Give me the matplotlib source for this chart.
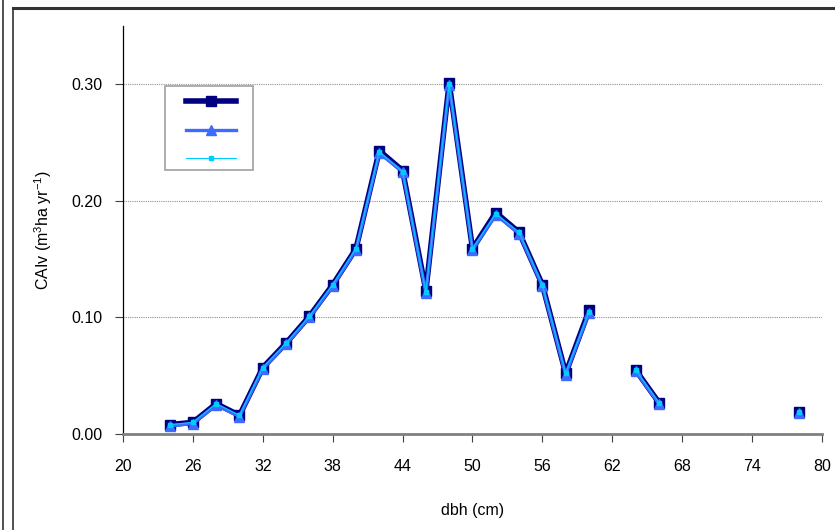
import numpy as np
import matplotlib
matplotlib.use('Agg')
import matplotlib.pyplot as plt
from matplotlib.lines import Line2D
from matplotlib.patches import Rectangle

plt.rcParams['font.family'] = ['Liberation Sans', 'DejaVu Sans']
plt.rcParams['mathtext.default'] = 'regular'

# diameter classes (cm) and current annual increment in volume
dbh = [24, 26, 28, 30, 32, 34, 36, 38, 40, 42, 44, 46, 48, 50, 52, 54, 56, 58, 60,
       62, 64, 66, 68, 70, 72, 74, 76, 78]
caiv_a = [0.008, 0.010, 0.026, 0.016, 0.057, 0.078, 0.101, 0.128, 0.159, 0.243,
          0.226, 0.123, 0.301, 0.159, 0.190, 0.173, 0.128, 0.052, 0.106,
          np.nan, 0.055, 0.027, np.nan, np.nan, np.nan, np.nan, np.nan, 0.019]
caiv_b = [0.007, 0.009, 0.025, 0.015, 0.056, 0.077, 0.100, 0.127, 0.158, 0.241,
          0.225, 0.121, 0.299, 0.158, 0.188, 0.172, 0.127, 0.051, 0.104,
          np.nan, 0.054, 0.026, np.nan, np.nan, np.nan, np.nan, np.nan, 0.018]
caiv_c = [0.008, 0.010, 0.026, 0.016, 0.057, 0.078, 0.101, 0.128, 0.159, 0.242,
          0.225, 0.122, 0.300, 0.159, 0.189, 0.173, 0.128, 0.052, 0.105,
          np.nan, 0.055, 0.027, np.nan, np.nan, np.nan, np.nan, np.nan, 0.019]

x_ticks = [20, 26, 32, 38, 44, 50, 56, 62, 68, 74, 80]
y_ticks = [0.0, 0.1, 0.2, 0.3]

fig = plt.figure(figsize=(8.35, 5.3), dpi=100)
ax = fig.add_axes([0.1473, 0.1811, 0.8371, 0.7698])

p1, = ax.plot(dbh, caiv_a, color='#000080', lw=4.0, marker='s', ms=7.5,
              mfc='#000080', mec='#000080', zorder=3)
p2, = ax.plot(dbh, caiv_b, color='#3d6bff', lw=2.4, marker='^', ms=7.5,
              mfc='#3d6bff', mec='#3d6bff', zorder=4)
p3, = ax.plot(dbh, caiv_c, color='#00ccff', lw=0.8, marker='s', ms=2.2,
              mfc='#00ccff', mec='#00ccff', zorder=5)

ax.set_xlim(20, 80)
ax.set_ylim(0, 0.35)
ax.set_xticks(x_ticks)
ax.set_yticks(y_ticks)
ax.set_yticklabels(['%.2f' % v for v in y_ticks])
ax.tick_params(axis='both', direction='out', length=6, labelsize=11.5, color='#404040')
ax.tick_params(axis='x', pad=12)
ax.tick_params(axis='y', pad=9)
ax.grid(axis='y', color='#909090', ls=(0, (1, 1)), lw=0.8)
ax.set_axisbelow(True)

for s in ['top', 'right']:
    ax.spines[s].set_visible(False)
ax.spines['left'].set_color('black')
ax.spines['left'].set_linewidth(0.9)
ax.spines['bottom'].set_color('#808080')
ax.spines['bottom'].set_linewidth(2)

ax.set_xlabel('dbh (cm)', fontsize=11.5, labelpad=21)
ax.set_ylabel('CAIv (m$^{3}$ha yr$^{-1}$)', fontsize=11.5, labelpad=12)

# legend without labels, boxed separately
ax.legend([p1, p2, p3], ['', '', ''], loc='center',
          bbox_to_anchor=(0.2527, 0.7528), bbox_transform=fig.transFigure,
          frameon=False, handlelength=3.25, handletextpad=0.0,
          labelspacing=0.95, borderpad=0.0, fontsize=11)
fig.add_artist(Rectangle((0.1976, 0.6792), 0.1054, 0.1585, transform=fig.transFigure,
                         facecolor='none', edgecolor='#a0a0a0', lw=1.2))

# outer chart frame
fig.add_artist(Line2D([0.0036, 0.0036], [0, 1], transform=fig.transFigure,
                      color='#333333', lw=1.2))
fig.add_artist(Line2D([0.0156, 0.0156], [0, 0.985], transform=fig.transFigure,
                      color='#333333', lw=1.2))
fig.add_artist(Line2D([0.0156, 1.0], [0.984, 0.984], transform=fig.transFigure,
                      color='#333333', lw=2.2))

fig.savefig('out.png', dpi=100)
